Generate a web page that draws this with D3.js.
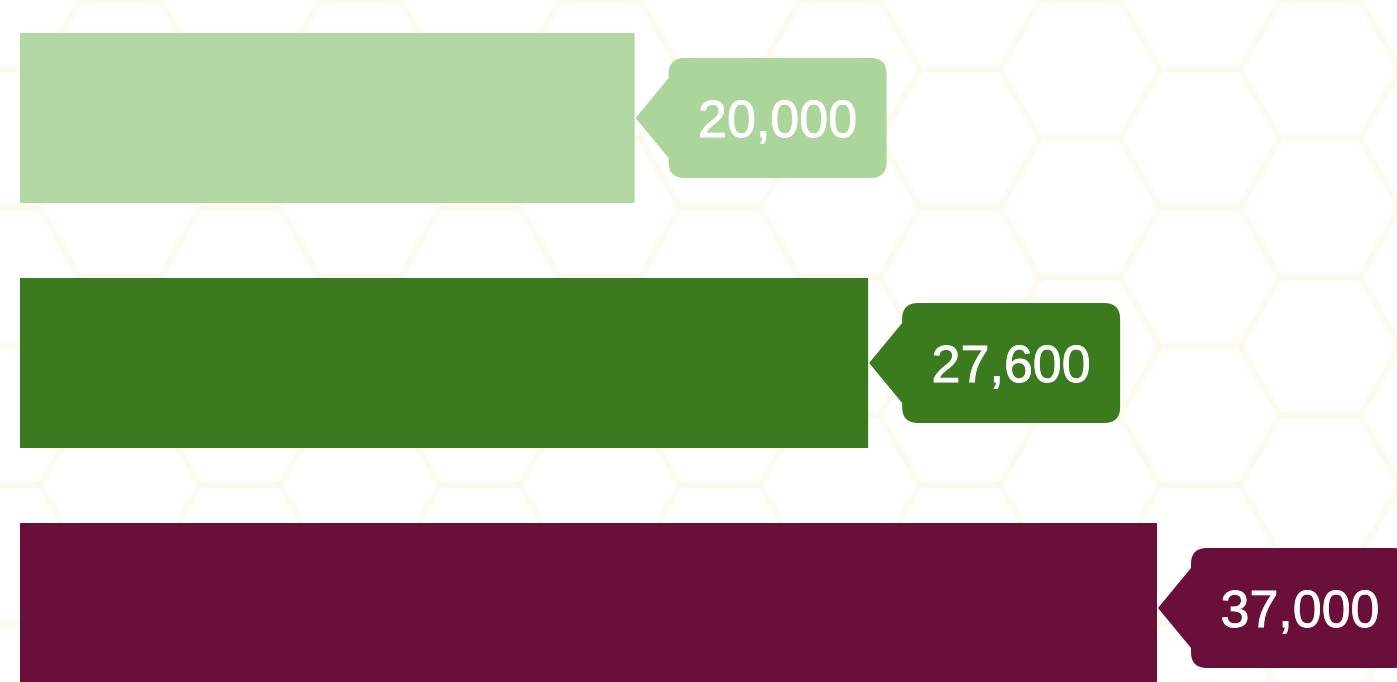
<!DOCTYPE html>
<html>
<head>
<meta charset="utf-8">
<script src="https://cdn.jsdelivr.net/npm/d3@7"></script>
<style>
  html, body { margin: 0; padding: 0; background: #fff; overflow: hidden; }
  svg { display: block; }
</style>
</head>
<body>
<svg id="chart" width="1397" height="682"></svg>
<script>
// Data
var categories = ["A", "B", "C"];
var values = [20000, 27600, 37000];
var labels = ["20,000", "27,600", "37,000"];
var colors = ["#b2d7a2", "#3b7a1f", "#690f3a"];
var labelColors = ["#acd59b", "#3b7a1f", "#690f3a"];

var W = 1397, H = 682;
var svg = d3.select("#chart");

// Faint hex background
var hexR = 80;
var hexW = hexR * 1.5, hexH = hexR * Math.sqrt(3);
var centers = [];
for (var c = -1; c * hexW < W + hexR; c++) {
  for (var r = -1; r * hexH < H + hexH; r++) {
    centers.push([c * hexW, r * hexH + (c % 2 ? hexH / 2 : 0)]);
  }
}
function hexPath(cx, cy) {
  var pts = d3.range(6).map(function(i) {
    var a = Math.PI / 3 * i;
    return [cx + hexR * Math.cos(a), cy + hexR * Math.sin(a)];
  });
  return "M" + pts.join("L") + "Z";
}
svg.append("g")
  .attr("class", "bg")
  .selectAll("path")
  .data(centers)
  .enter().append("path")
    .attr("d", function(d) { return hexPath(d[0], d[1]); })
    .style("fill", "none")
    .style("stroke", "#fcf6e4")
    .style("stroke-width", 6)
    .style("opacity", 0.45)
  ;

// Scales
var x = d3.scaleLinear()
  .domain([0, d3.max(values)])
  .range([20, 1157]);

// step 245, bar 170
var y = d3.scaleBand()
  .domain(categories)
  .range([33, 33 + 245 * 3 - 75])
  .paddingInner(75 / 245)
  .paddingOuter(0);

// Bars
svg.append("g")
  .attr("class", "bars")
  .selectAll("rect")
  .data(values)
  .enter().append("rect")
    .attr("x", x(0))
    .attr("y", function(d, i) { return y(categories[i]); })
    .attr("width", function(d) { return x(d) - x(0); })
    .attr("height", y.bandwidth())
    .style("fill", function(d, i) { return colors[i]; })
  ;

// Callout labels
var boxW = 218, boxH = 120, gap = 34, tip = 1, arrowH = 40, rad = 16;
function callout() {
  // rounded box with left pointer, local coords (tip at 0,0)
  var l = gap - tip, t = -boxH / 2, b = boxH / 2, rr = l + boxW;
  return "M0,0" +
    "L" + l + "," + (-arrowH) +
    "L" + l + "," + (t + rad) +
    "Q" + l + "," + t + " " + (l + rad) + "," + t +
    "L" + (rr - rad) + "," + t +
    "Q" + rr + "," + t + " " + rr + "," + (t + rad) +
    "L" + rr + "," + (b - rad) +
    "Q" + rr + "," + b + " " + (rr - rad) + "," + b +
    "L" + (l + rad) + "," + b +
    "Q" + l + "," + b + " " + l + "," + (b - rad) +
    "L" + l + "," + arrowH + "Z";
}

var tags = svg.append("g")
  .attr("class", "tags")
  .selectAll("g")
  .data(values)
  .enter().append("g")
    .attr("transform", function(d, i) {
      return "translate(" + (x(d) + tip) + "," + (y(categories[i]) + y.bandwidth() / 2) + ")";
    })
  ;

tags.append("path")
  .attr("d", callout())
  .style("fill", function(d, i) { return labelColors[i]; })
  ;

tags.append("text")
  .attr("x", function(d) { return Math.min(gap - tip + boxW / 2, W - x(d) - tip - 90); })
  .attr("y", 0)
  .attr("dy", "0.36em")
  .attr("text-anchor", "middle")
  .style("font-family", "'Liberation Sans', Arial, sans-serif")
  .style("font-size", "52px")
  .style("fill", "#fff")
  .style("stroke", "#fff")
  .style("stroke-width", 0.8)
  .text(function(d, i) { return labels[i]; })
  ;
</script>
</body>
</html>
